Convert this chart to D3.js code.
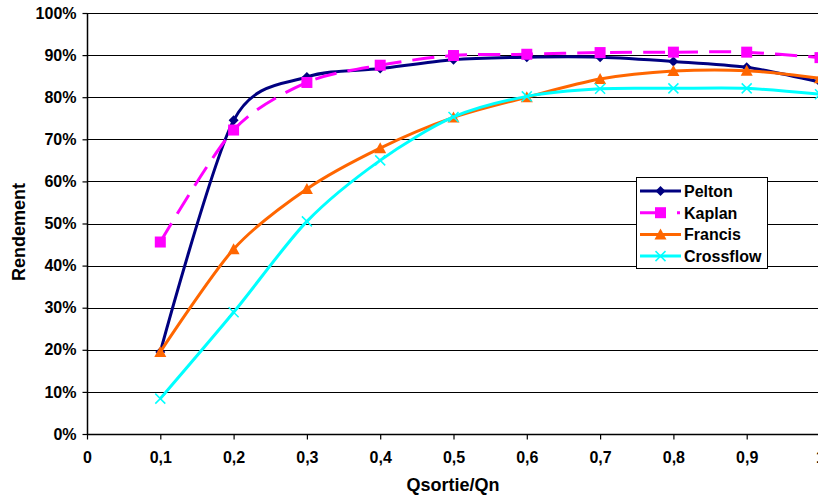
<!DOCTYPE html>
<html><head><meta charset="utf-8">
<script src="https://cdn.jsdelivr.net/npm/d3@7"></script>
<style>body{margin:0;background:#fff;overflow:hidden}svg{display:block}</style>
</head><body>
<svg id="c" width="818" height="495"></svg>
<script>
const xValues = [0.1,0.2,0.3,0.4,0.5,0.6,0.7,0.8,0.9,1.0];
const pelton = [19.5,74.5,84.8,86.8,88.9,89.5,89.5,88.5,87.1,83.6];
const kaplan = [45.6,72.2,83.5,87.6,89.9,90.2,90.6,90.7,90.7,89.4];
const francis = [19.5,43.9,58.2,67.9,75.2,80.0,84.3,86.2,86.3,84.5];
const crossflow = [8.4,28.9,50.5,65.0,75.3,80.2,82.0,82.1,82.1,80.7];
const seriesNames = ["Pelton","Kaplan","Francis","Crossflow"];
const xTicks = [0,0.1,0.2,0.3,0.4,0.5,0.6,0.7,0.8,0.9,1];
const yTicks = [0,10,20,30,40,50,60,70,80,90,100];

const svg = d3.select("#c");
const L = 87, R = 820, T = 13, B = 434;
const x = d3.scaleLinear().domain([0,1]).range([L,R]);
const y = d3.scaleLinear().domain([0,100]).range([B,T]);
const font = "'Liberation Sans', Arial, sans-serif";

svg.append("g").selectAll("line").data(yTicks.filter(d=>d>0)).join("line")
  .attr("x1",L).attr("x2",818).attr("y1",d=>Math.round(y(d))+0.5).attr("y2",d=>Math.round(y(d))+0.5)
  .attr("stroke","#000").attr("stroke-width",1);

const yAxis = d3.axisLeft(y).tickValues(yTicks).tickSize(5).tickFormat(d=>d+"%");
const gy = svg.append("g").attr("transform",`translate(${L+0.5},0)`).call(yAxis);
const xAxis = d3.axisBottom(x).tickValues(xTicks).tickSize(5).tickFormat(d=>d3.format(".1~f")(d).replace(".",","));
const gx = svg.append("g").attr("transform",`translate(0,${B+0.5})`).call(xAxis);
[gx,gy].forEach(g=>{
  g.select(".domain").attr("stroke","#000").attr("stroke-width",1.5);
  g.selectAll(".tick line").attr("stroke","#000").attr("stroke-width",1.2);
  g.selectAll("text").attr("font-family",font).attr("font-weight","bold").attr("font-size","16px").attr("fill","#000");
});
gy.select(".domain").attr("d",`M0,${T}V${B}`);
gx.select(".domain").attr("d",`M${L},0H818`);
gy.selectAll(".tick text").attr("x",-11);
gx.selectAll(".tick text").attr("y",17);

svg.append("text").attr("x",453).attr("y",491).attr("text-anchor","middle")
  .attr("font-family",font).attr("font-weight","bold").attr("font-size","18px").text("Qsortie/Qn");
svg.append("text").attr("transform","translate(25,232) rotate(-90)").attr("text-anchor","middle")
  .attr("font-family",font).attr("font-weight","bold").attr("font-size","18px").text("Rendement");

const series = [
  {name:"Pelton", vals:pelton, color:"#000080", marker:"diamond", dash:null},
  {name:"Kaplan", vals:kaplan, color:"#FF00FF", marker:"square", dash:"22,11"},
  {name:"Francis", vals:francis, color:"#FF6600", marker:"triangle", dash:null},
  {name:"Crossflow", vals:crossflow, color:"#00FFFF", marker:"x", dash:null}
];
const line = d3.line().x(d=>x(d[0])).y(d=>y(d[1])).curve(d3.curveCardinal.tension(0.15));

function drawMarker(g, type, cx, cy, color){
  if(type==="diamond"){
    g.append("path").attr("d",`M${cx},${cy-5}L${cx+5},${cy}L${cx},${cy+5}L${cx-5},${cy}Z`).attr("fill",color);
  } else if(type==="square"){
    g.append("rect").attr("x",cx-5.5).attr("y",cy-5.5).attr("width",11).attr("height",11).attr("fill",color);
  } else if(type==="triangle"){
    g.append("path").attr("d",`M${cx},${cy-6}L${cx+6},${cy+5}L${cx-6},${cy+5}Z`).attr("fill",color);
  } else if(type==="x"){
    g.append("path").attr("d",`M${cx-5},${cy-5}L${cx+5},${cy+5}M${cx-5},${cy+5}L${cx+5},${cy-5}`)
      .attr("stroke",color).attr("stroke-width",1.5);
  }
}

const plot = svg.append("g");
series.forEach(s=>{
  const pts = xValues.map((xv,i)=>[xv,s.vals[i]]);
  const p = plot.append("path").attr("d",line(pts)).attr("fill","none")
    .attr("stroke",s.color).attr("stroke-width",3);
  if(s.dash) p.attr("stroke-dasharray",s.dash);
  const mg = plot.append("g");
  pts.forEach(d=>drawMarker(mg,s.marker,x(d[0]),y(d[1]),s.color));
});

const lg = svg.append("g");
lg.append("rect").attr("x",636.5).attr("y",177.5).attr("width",131).attr("height",91)
  .attr("fill","#fff").attr("stroke","#000").attr("stroke-width",1);
series.forEach((s,i)=>{
  const cy = 191 + i*21.7;
  const l = lg.append("line").attr("x1",640).attr("x2",681).attr("y1",cy).attr("y2",cy)
    .attr("stroke",s.color).attr("stroke-width",3);
  if(s.dash) l.attr("stroke-dasharray","21,16,3,10");
  drawMarker(lg,s.marker,660.5,cy,s.color);
  lg.append("text").attr("x",684).attr("y",cy+6).attr("font-family",font).attr("font-weight","bold")
    .attr("font-size","16px").text(s.name);
});
</script>
</body></html>
